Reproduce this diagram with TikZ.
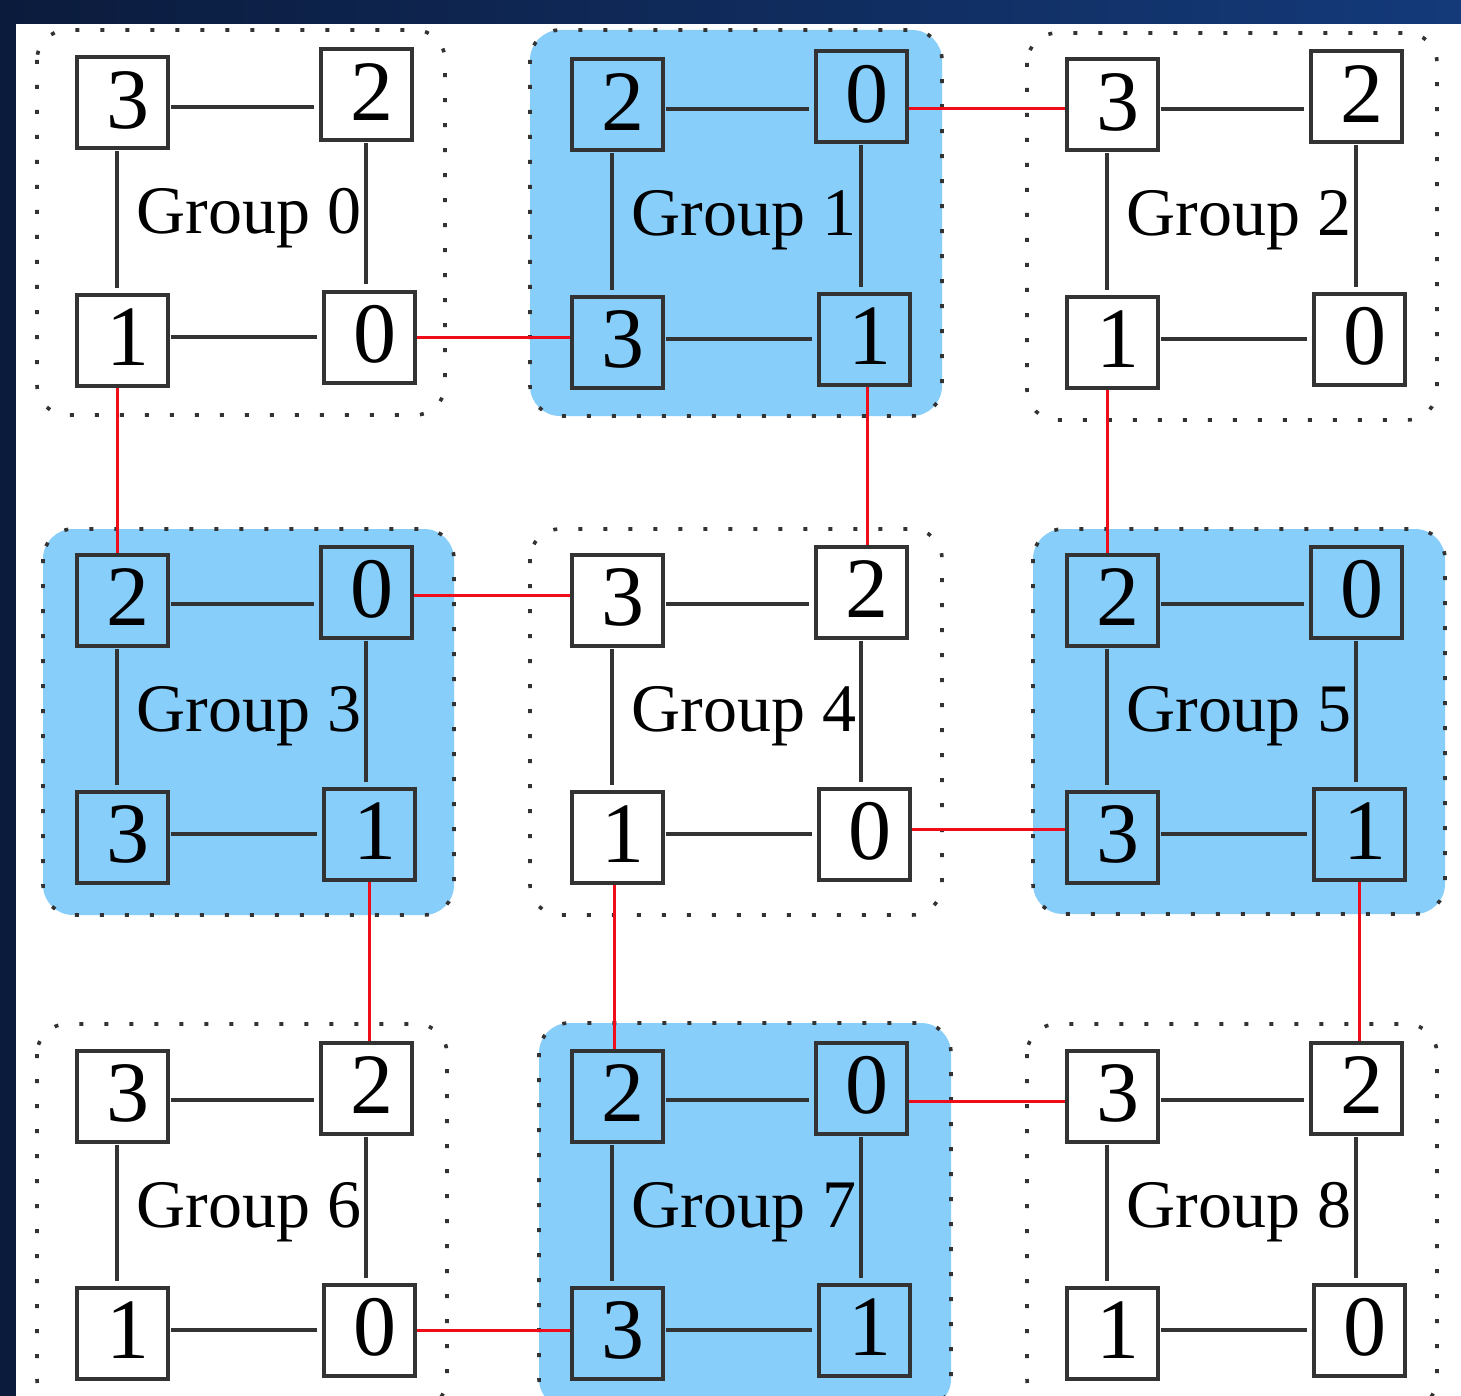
\documentclass[tikz,border=0pt]{standalone}
\usepackage{fontspec}
\setmainfont{Liberation Serif}
\usetikzlibrary{calc}

\definecolor{skyfill}{RGB}{135,206,250}
\definecolor{navyL}{RGB}{11,27,60}
\definecolor{navyR}{RGB}{20,58,122}
\definecolor{linkred}{RGB}{240,12,24}

\newcommand\digitfont{\fontsize{43}{43}\selectfont}
\newcommand\groupfont{\fontsize{34}{34}\selectfont}
% digit placed slightly right of and above the box centre
\newcommand\dg[1]{\kern6pt\raisebox{3pt}{#1}}

\tikzset{
  nd/.style={draw=black!80, line width=2pt, minimum size=45.5pt, inner sep=0pt, font=\digitfont},
  grpbox/.style={rounded corners=15pt, draw=black!80, line width=1.8pt, dash pattern=on 2pt off 10.5pt},
  link/.style={draw=black!80, line width=1.8pt, shorten >=2.5pt, shorten <=0.5pt},
  xlink/.style={draw=linkred, line width=1.5pt},
  glabel/.style={font=\groupfont, anchor=base, inner sep=0pt}
}

\begin{document}
\begin{tikzpicture}[x=0.5pt,y=-0.5pt]
\useasboundingbox (0,0) rectangle (1461,1396);
\clip (0,0) rectangle (1461,1396);
\fill[white] (0,0) rectangle (1461,1396);

% slide frame
\shade[left color=navyL, right color=navyR] (0,0) rectangle (1461,24);
\fill[navyL] (0,0) rectangle (16,1396);

% groups: index / top-left node centre / fill / node numbers TL,TR,BL,BR / box corners
\foreach \g/\gx/\gy/\st/\na/\nb/\nc/\nd/\xa/\ya/\xb/\yb in {
  0/122/103/white/3/2/1/0/37/30/445/415,
  1/617/105/skyfill/2/0/3/1/530/30/942/416,
  2/1112/105/white/3/2/1/0/1027/33/1437/420,
  3/122/600/skyfill/2/0/3/1/43/529/454/915,
  4/617/600/white/3/2/1/0/530/529/942/915,
  5/1112/600/skyfill/2/0/3/1/1033/529/1445/914,
  6/122/1096/white/3/2/1/0/37/1024/447/1409,
  7/617/1096/skyfill/2/0/3/1/539/1023/951/1409,
  8/1112/1096/white/3/2/1/0/1027/1024/1437/1409}
{
  \draw[grpbox, fill=\st] (\xa,\ya) rectangle (\xb,\yb);
  \node[nd, fill=\st] (g\g-tl) at (\gx,\gy) {\dg{\na}};
  \node[nd, fill=\st] (g\g-tr) at (\gx+244,\gy-8) {\dg{\nb}};
  \node[nd, fill=\st] (g\g-bl) at (\gx,\gy+237) {\dg{\nc}};
  \node[nd, fill=\st] (g\g-br) at (\gx+247,\gy+234) {\dg{\nd}};
  \node[glabel] (g\g-lab) at (\gx+127,\gy+131) {Group \g};
  % links inside the group
  \coordinate (g\g-t) at ([yshift=-2pt]g\g-tl.east);
  \draw[link] (g\g-t) -- (g\g-t -| g\g-tr.west);
  \coordinate (g\g-l) at ([xshift=-2.5pt]g\g-tl.south);
  \draw[link] (g\g-l) -- (g\g-l |- g\g-bl.north);
  \draw[link] (g\g-tr.south) -- (g\g-tr.south |- g\g-br.north);
  \coordinate (g\g-b) at (g\g-br.west -| g\g-bl.east);
  \draw[link] (g\g-b) -- (g\g-br.west);
}

% links between groups
\coordinate (r1) at (g0-br.east);
\draw[xlink] (r1) -- (r1 -| g1-bl.west);
\coordinate (r2) at ([yshift=-2pt]g2-tl.west);
\draw[xlink] (r2 -| g1-tr.east) -- (r2);
\coordinate (r3) at ([xshift=-2.5pt]g0-bl.south);
\draw[xlink] (r3) -- (r3 |- g3-tl.north);
\coordinate (r4) at ([xshift=1.5pt]g1-br.south);
\draw[xlink] (r4) -- (r4 |- g4-tr.north);
\coordinate (r5) at ([xshift=-2.5pt]g2-bl.south);
\draw[xlink] (r5) -- (r5 |- g5-tl.north);
\coordinate (r6) at ([yshift=2.25pt]g4-tl.west);
\draw[xlink] (r6 -| g3-tr.east) -- (r6);
\coordinate (r7) at ([yshift=2.25pt]g4-br.east);
\draw[xlink] (r7) -- (r7 -| g5-bl.west);
\coordinate (r8) at (g3-br.south);
\draw[xlink] (r8) -- (r8 |- g6-tr.north);
\coordinate (r9) at ([xshift=-1.5pt]g4-bl.south);
\draw[xlink] (r9) -- (r9 |- g7-tl.north);
\coordinate (r10) at (g5-br.south);
\draw[xlink] (r10) -- (r10 |- g8-tr.north);
\coordinate (r11) at (g6-br.east);
\draw[xlink] (r11) -- (r11 -| g7-bl.west);
\coordinate (r12) at ([yshift=-2.5pt]g8-tl.west);
\draw[xlink] (r12 -| g7-tr.east) -- (r12);
\end{tikzpicture}
\end{document}
